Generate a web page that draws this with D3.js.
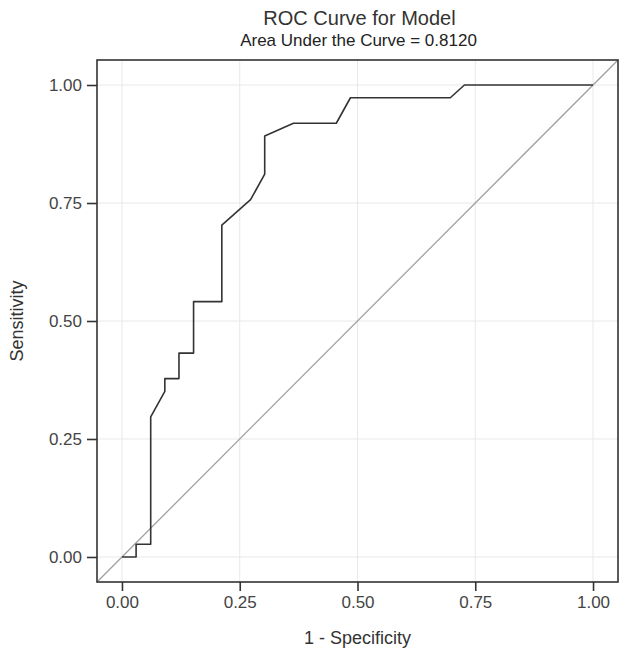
<!DOCTYPE html>
<html>
<head>
<meta charset="utf-8">
<script src="https://cdn.jsdelivr.net/npm/d3@7"></script>
<style>
  body { margin: 0; background: #fff; }
  text { font-family: "Liberation Sans", Arial, sans-serif; }
</style>
</head>
<body>
<div id="chart"></div>
<script>
// ##################################
//  DATA
// ##################################
const fpr = [0, 0.030, 0.030, 0.061, 0.061, 0.091, 0.091, 0.121, 0.121, 0.152, 0.152,
  0.212, 0.212, 0.273, 0.303, 0.303, 0.364, 0.455, 0.485, 0.697, 0.727, 1.0]
const tpr = [0, 0, 0.027, 0.027, 0.297, 0.351, 0.378, 0.378, 0.432, 0.432, 0.541,
  0.541, 0.703, 0.757, 0.811, 0.892, 0.919, 0.919, 0.973, 0.973, 1.0, 1.0]
const ticks = [0, 0.25, 0.5, 0.75, 1]
const title = "ROC Curve for Model"
const subtitle = "Area Under the Curve = 0.8120"

// ##################################
//  LAYOUT
// ##################################
const width = 629
const height = 657
const frame = { left: 97, right: 618, top: 60, bottom: 582 }

const x = d3.scaleLinear().domain([-0.053, 1.053]).range([frame.left, frame.right])
const y = d3.scaleLinear().domain([-0.053, 1.053]).range([frame.bottom, frame.top])

const svg = d3.select("#chart")
  .append("svg")
  .attr("width", width)
  .attr("height", height)

// gridlines
const grid = svg.append("g").attr("stroke", "#e8e8e8").attr("stroke-width", 1)
grid.selectAll("line.vx")
  .data(ticks)
  .join("line")
  .attr("x1", (d) => x(d)).attr("x2", (d) => x(d))
  .attr("y1", frame.top).attr("y2", frame.bottom)
grid.selectAll("line.hy")
  .data(ticks)
  .join("line")
  .attr("class", "hy")
  .attr("y1", (d) => y(d)).attr("y2", (d) => y(d))
  .attr("x1", frame.left).attr("x2", frame.right)

// reference diagonal
svg.append("line")
  .attr("x1", x(-0.053)).attr("y1", y(-0.053))
  .attr("x2", x(1.053)).attr("y2", y(1.053))
  .attr("stroke", "#a0a0a0")
  .attr("stroke-width", 1.3)

// ROC curve
const line = d3.line()
  .x((d) => x(d[0]))
  .y((d) => y(d[1]))

svg.append("path")
  .datum(d3.zip(fpr, tpr))
  .attr("fill", "none")
  .attr("stroke", "#333")
  .attr("stroke-width", 1.6)
  .attr("stroke-linejoin", "round")
  .attr("d", line)

// frame
svg.append("rect")
  .attr("x", frame.left).attr("y", frame.top)
  .attr("width", frame.right - frame.left)
  .attr("height", frame.bottom - frame.top)
  .attr("fill", "none")
  .attr("stroke", "#333")
  .attr("stroke-width", 1.6)

// axes
const fmt = d3.format(".2f")
svg.append("g")
  .attr("transform", `translate(0, ${frame.bottom})`)
  .call(d3.axisBottom(x).tickValues(ticks).tickFormat(fmt).tickSize(9).tickPadding(5))
  .call((g) => g.select(".domain").remove())
  .call((g) => g.selectAll(".tick line").attr("stroke", "#333").attr("stroke-width", 1.6))
  .call((g) => g.selectAll(".tick text").attr("fill", "#444").attr("font-size", 17))

svg.append("g")
  .attr("transform", `translate(${frame.left}, 0)`)
  .call(d3.axisLeft(y).tickValues(ticks).tickFormat(fmt).tickSize(10).tickPadding(5))
  .call((g) => g.select(".domain").remove())
  .call((g) => g.selectAll(".tick line").attr("stroke", "#333").attr("stroke-width", 1.6))
  .call((g) => g.selectAll(".tick text").attr("fill", "#444").attr("font-size", 17))

// axis titles
svg.append("text")
  .attr("x", (frame.left + frame.right) / 2)
  .attr("y", 644)
  .attr("text-anchor", "middle")
  .attr("font-size", 18)
  .attr("fill", "#333")
  .text("1 - Specificity")

svg.append("text")
  .attr("transform", `translate(23, ${(frame.top + frame.bottom) / 2}) rotate(-90)`)
  .attr("text-anchor", "middle")
  .attr("font-size", 18)
  .attr("fill", "#333")
  .text("Sensitivity")

// titles
svg.append("text")
  .attr("x", (frame.left + frame.right) / 2 + 2)
  .attr("y", 25)
  .attr("text-anchor", "middle")
  .attr("font-size", 20)
  .attr("fill", "#333")
  .text(title)

svg.append("text")
  .attr("x", (frame.left + frame.right) / 2 + 1)
  .attr("y", 46)
  .attr("text-anchor", "middle")
  .attr("font-size", 17)
  .attr("fill", "#222")
  .text(subtitle)
</script>
</body>
</html>
